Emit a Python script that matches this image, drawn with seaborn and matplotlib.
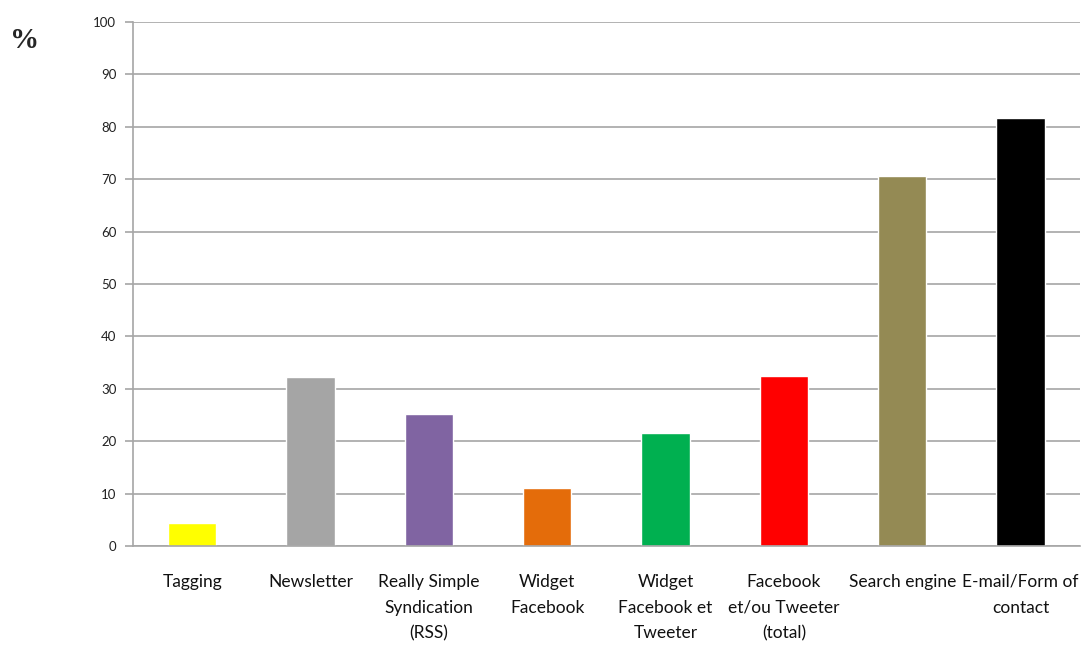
import matplotlib
matplotlib.use("Agg")
import matplotlib.pyplot as plt
import seaborn as sns
import pandas as pd

categories = ["Tagging", "Newsletter", "Really Simple\nSyndication\n(RSS)", "Widget\nFacebook",
              "Widget\nFacebook et\nTweeter", "Facebook\net/ou Tweeter\n(total)", "Search engine",
              "E-mail/Form of\ncontact"]
values = [4.3, 32.2, 25.1, 11.0, 21.5, 32.4, 70.6, 81.7]
colors = ["#FFFF00", "#A5A5A5", "#8064A2", "#E46C0A", "#00B050", "#FF0000", "#948A54", "#000000"]
yticks = list(range(0, 101, 10))

sns.set_theme(style="white")
plt.rcParams['font.family'] = ['Lato', 'DejaVu Sans']

df = pd.DataFrame({"cat": categories, "val": values})
fig = plt.figure(figsize=(10.83, 6.54), dpi=100)
ax = fig.add_axes([0.1228, 0.1651, 0.997 - 0.1228, 0.9664 - 0.1651])
sns.barplot(data=df, x="cat", y="val", hue="cat", palette=colors, legend=False,
            width=0.41, ax=ax, saturation=1)

ax.set_ylim(0, 100)
ax.set_xlim(-0.5, len(categories) - 0.5)
ax.set_yticks(yticks)
ax.set_yticklabels([str(t) for t in yticks], fontsize=9.5, color="#222222")
ax.yaxis.grid(True, color="#A6A6A6", linewidth=1.2)
ax.set_axisbelow(True)
ax.set_xlabel("")
ax.set_ylabel("")

ax.set_xticks(range(len(categories)))
ax.set_xticklabels(categories, fontsize=12.5, color="#111111", linespacing=1.75, va="top")
ax.tick_params(axis="x", which="major", length=0, pad=20)
ax.set_xticks([i - 0.5 for i in range(len(categories) + 1)], minor=True)
ax.tick_params(axis="x", which="minor", length=7, color="#A6A6A6", width=1.2, direction="out")
ax.tick_params(axis="y", length=6, color="#A6A6A6", width=1.2, direction="out", pad=6, left=True)

for s in ["top", "right"]:
    ax.spines[s].set_visible(False)
for s in ["left", "bottom"]:
    ax.spines[s].set_color("#A6A6A6")
    ax.spines[s].set_linewidth(1.2)

fig.text(25 / 1083, 1 - 40 / 654, "%", fontsize=21, fontweight="bold",
         family="Liberation Serif", ha="center", va="center")

fig.savefig("out.png", dpi=100)
